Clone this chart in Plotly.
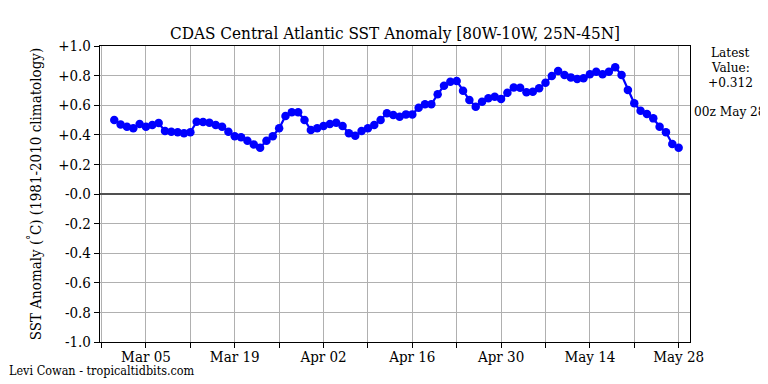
import plotly.graph_objects as go
import pandas as pd

dates = pd.date_range("2024-02-29", "2024-05-28", freq="D")
anomaly = [0.50, 0.47, 0.455, 0.444, 0.473, 0.455, 0.466, 0.48, 0.425, 0.42, 0.417, 0.41, 0.417, 0.488,
           0.486, 0.482, 0.466, 0.455, 0.42, 0.39, 0.383, 0.36, 0.335, 0.313, 0.36, 0.39, 0.444, 0.527, 0.553,
           0.552, 0.50, 0.432, 0.444, 0.46, 0.473, 0.482, 0.46, 0.41, 0.394, 0.425, 0.444, 0.466, 0.50, 0.545,
           0.534, 0.522, 0.538, 0.538, 0.583, 0.606, 0.606, 0.674, 0.732, 0.759, 0.764, 0.698, 0.635, 0.59, 0.624,
           0.647, 0.657, 0.642, 0.684, 0.72, 0.718, 0.687, 0.691, 0.714, 0.752, 0.797, 0.831, 0.804, 0.788, 0.777,
           0.782, 0.809, 0.826, 0.809, 0.826, 0.856, 0.804, 0.703, 0.613, 0.563, 0.54, 0.511, 0.455, 0.417, 0.338, 0.312]
ytick_vals = [1.0, 0.8, 0.6, 0.4, 0.2, 0.0, -0.2, -0.4, -0.6, -0.8, -1.0]
ytick_text = ["+1.0", "+0.8", "+0.6", "+0.4", "+0.2", "-0.0", "-0.2", "-0.4", "-0.6", "-0.8", "-1.0"]
title = "CDAS Central Atlantic SST Anomaly [80W-10W, 25N-45N]"
latest_lines = ["Latest", "Value:", "+0.312"]
latest_time = "00z May 28"
credit = "Levi Cowan - tropicaltidbits.com"

FONT = "DejaVu Serif Condensed, DejaVu Serif"

# page body has an 8px margin; figure is sized so that the plot sits where the reference's does
W, H = 760, 376
L, T, PW, PH = 92, 38, 590, 296
R, B = W - L - PW, H - T - PH

def px_x(x_page):
    return (x_page - 8 - L) / PW

def px_y(y_page):
    return 1 - (y_page - 8 - T) / PH

fig = go.Figure()
fig.add_trace(go.Scatter(
    x=dates, y=anomaly, mode="lines+markers",
    line=dict(color="#0000ff", width=2.2),
    marker=dict(color="#0000ff", size=8.5),
    showlegend=False,
))

fig.update_layout(
    width=W, height=H,
    margin=dict(l=L, r=R, t=T, b=B, autoexpand=False),
    paper_bgcolor="white", plot_bgcolor="white",
    font=dict(family=FONT, size=14, color="black"),
    title=dict(text=title, x=0.5, xanchor="center", xref="paper",
               y=1 - (33 - 8) / H, yanchor="middle", font=dict(family=FONT, size=17)),
    xaxis=dict(
        type="date", automargin=False,
        range=["2024-02-26 18:00", "2024-05-29 19:00"],
        tick0="2024-03-05", dtick=14 * 86400000, tickformat="%b %d",
        ticks="outside", ticklen=5, tickcolor="black", tickwidth=1,
        ticklabelstandoff=-4,
        showgrid=True, gridcolor="#b0b0b0", gridwidth=1,
        minor=dict(tick0="2024-03-05", dtick=7 * 86400000, ticks="outside", ticklen=5,
                   tickcolor="black", showgrid=True, gridcolor="#b0b0b0", gridwidth=1),
        showline=True, linecolor="black", linewidth=1.2, mirror=True,
        zeroline=False, tickfont=dict(family=FONT, size=15),
    ),
    yaxis=dict(
        range=[-1.0, 1.0], automargin=False,
        tickvals=ytick_vals, ticktext=ytick_text,
        ticks="outside", ticklen=5, tickcolor="black", tickwidth=1,
        showgrid=True, gridcolor="#b0b0b0", gridwidth=1,
        showline=True, linecolor="black", linewidth=1.2, mirror=True,
        zeroline=True, zerolinecolor="#505050", zerolinewidth=1.5,
        tickfont=dict(family=FONT, size=15),
        title=dict(text="SST Anomaly (<sup>°</sup>C) (1981-2010 climatology)",
                   font=dict(family=FONT, size=15), standoff=12),
    ),
)

for txt, yp in zip(latest_lines, [52, 67, 82]):
    fig.add_annotation(text=txt, xref="paper", yref="paper",
                       x=px_x(730), y=px_y(yp), xanchor="center", yanchor="middle",
                       showarrow=False, font=dict(family=FONT, size=13.5))
fig.add_annotation(text=latest_time, xref="paper", yref="paper",
                   x=px_x(730), y=px_y(111), xanchor="center", yanchor="middle",
                   showarrow=False, font=dict(family=FONT, size=13.5))
fig.add_annotation(text=credit, xref="paper", yref="paper",
                   x=px_x(7), y=px_y(370), xanchor="left", yanchor="middle",
                   showarrow=False, font=dict(family=FONT, size=12.5))

fig.write_html("out.html")
